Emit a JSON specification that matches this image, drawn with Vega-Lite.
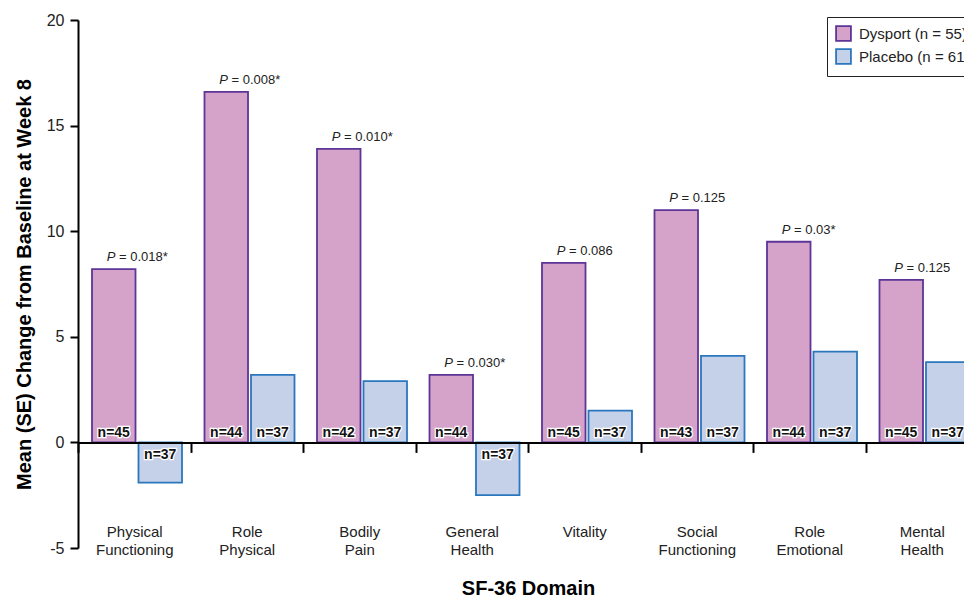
{
  "$schema": "https://vega.github.io/schema/vega-lite/v6.json",
  "width": 886,
  "height": 528,
  "autosize": {"type": "none"},
  "padding": {"left": 78, "top": 20, "right": 0, "bottom": 51},
  "background": "white",
  "config": {"font": "Liberation Sans", "view": {"stroke": null}},
  "data": {
    "values": [
      {"domain": "Physical Functioning", "series": "Dysport (n = 55)", "value": 8.2, "n": "n=45", "p": "0.018*"},
      {"domain": "Physical Functioning", "series": "Placebo (n = 61)", "value": -1.9, "n": "n=37", "p": null},
      {"domain": "Role Physical", "series": "Dysport (n = 55)", "value": 16.6, "n": "n=44", "p": "0.008*"},
      {"domain": "Role Physical", "series": "Placebo (n = 61)", "value": 3.2, "n": "n=37", "p": null},
      {"domain": "Bodily Pain", "series": "Dysport (n = 55)", "value": 13.9, "n": "n=42", "p": "0.010*"},
      {"domain": "Bodily Pain", "series": "Placebo (n = 61)", "value": 2.9, "n": "n=37", "p": null},
      {"domain": "General Health", "series": "Dysport (n = 55)", "value": 3.2, "n": "n=44", "p": "0.030*"},
      {"domain": "General Health", "series": "Placebo (n = 61)", "value": -2.5, "n": "n=37", "p": null},
      {"domain": "Vitality", "series": "Dysport (n = 55)", "value": 8.5, "n": "n=45", "p": "0.086"},
      {"domain": "Vitality", "series": "Placebo (n = 61)", "value": 1.5, "n": "n=37", "p": null},
      {"domain": "Social Functioning", "series": "Dysport (n = 55)", "value": 11.0, "n": "n=43", "p": "0.125"},
      {"domain": "Social Functioning", "series": "Placebo (n = 61)", "value": 4.1, "n": "n=37", "p": null},
      {"domain": "Role Emotional", "series": "Dysport (n = 55)", "value": 9.5, "n": "n=44", "p": "0.03*"},
      {"domain": "Role Emotional", "series": "Placebo (n = 61)", "value": 4.3, "n": "n=37", "p": null},
      {"domain": "Mental Health", "series": "Dysport (n = 55)", "value": 7.7, "n": "n=45", "p": "0.125"},
      {"domain": "Mental Health", "series": "Placebo (n = 61)", "value": 3.8, "n": "n=37", "p": null}
    ]
  },
  "encoding": {
    "x": {
      "field": "domain", "type": "nominal", "sort": null,
      "scale": {"range": [0, 900], "paddingInner": 0, "paddingOuter": 0},
      "axis": {
        "title": "SF-36 Domain", "orient": "bottom", "offset": -105.6, "zindex": 1,
        "tickBand": "extent", "tickSize": 10, "tickWidth": 2, "tickColor": "black",
        "domainColor": "black", "domainWidth": 2,
        "labelAngle": 0, "labelFontSize": 15, "labelColor": "#222", "labelPadding": 72,
        "labelLineHeight": 18, "labelBaseline": "top", "labelExpr": "split(datum.label, ' ')",
        "titleFontSize": 20, "titleFontWeight": "bold", "titleColor": "black", "titlePadding": 21
      }
    },
    "xOffset": {"field": "series", "type": "nominal", "sort": null, "scale": {"range": [14, 104], "paddingInner": 0.064, "paddingOuter": 0}}
  },
  "layer": [
    {
      "mark": {"type": "bar", "strokeWidth": 1.8},
      "encoding": {
        "y": {
          "field": "value", "type": "quantitative",
          "scale": {"domain": [-5, 20], "nice": false, "zero": false},
          "axis": {
            "values": [-5, 0, 5, 10, 15, 20], "grid": false, "labelExpr": "'' + datum.value",
            "domainColor": "black", "domainWidth": 2, "tickColor": "black", "tickWidth": 2, "tickSize": 8,
            "labelFontSize": 16, "labelColor": "#222", "labelPadding": 6,
            "title": "Mean (SE) Change from Baseline at Week 8", "titleFontSize": 20,
            "titleFontWeight": "bold", "titleColor": "black", "titlePadding": 12
          }
        },
        "fill": {
          "field": "series", "type": "nominal", "sort": null,
          "scale": {"range": ["#d5a3c9", "#c5d0e9"]},
          "legend": {
            "orient": "none", "legendX": 749, "legendY": -3, "title": null,
            "strokeColor": "#222", "padding": 8, "symbolType": "square", "symbolSize": 220,
            "symbolStrokeWidth": 1.8, "labelFontSize": 15, "labelColor": "#222", "rowPadding": 0, "labelOffset": 7
          }
        },
        "stroke": {
          "field": "series", "type": "nominal", "sort": null,
          "scale": {"range": ["#5c3596", "#2b77bd"]},
          "legend": {
            "orient": "none", "legendX": 749, "legendY": -3, "title": null,
            "strokeColor": "#222", "padding": 8, "symbolType": "square", "symbolSize": 220,
            "symbolStrokeWidth": 1.8, "labelFontSize": 15, "labelColor": "#222", "rowPadding": 0, "labelOffset": 7
          }
        }
      }
    },
    {
      "transform": [{"filter": "datum.p != null"}],
      "mark": {"type": "text", "fontStyle": "italic", "fontSize": 13, "align": "left", "baseline": "alphabetic", "dx": -7, "dy": -8, "color": "#222"},
      "encoding": {"y": {"field": "value", "type": "quantitative"}, "text": {"value": "P"}}
    },
    {
      "transform": [{"filter": "datum.p != null"}],
      "mark": {"type": "text", "fontSize": 13, "align": "left", "baseline": "alphabetic", "dx": 5.3, "dy": -8, "color": "#222"},
      "encoding": {"y": {"field": "value", "type": "quantitative"}, "text": {"value": "="}}
    },
    {
      "transform": [{"filter": "datum.p != null"}],
      "mark": {"type": "text", "fontSize": 13, "align": "left", "baseline": "alphabetic", "dx": 16.5, "dy": -8, "color": "#222"},
      "encoding": {"y": {"field": "value", "type": "quantitative"}, "text": {"field": "p"}}
    },
    {
      "transform": [{"filter": "datum.value >= 0"}],
      "mark": {"type": "text", "fontWeight": "bold", "fontSize": 14, "baseline": "alphabetic", "dy": -5, "stroke": "white", "strokeWidth": 2.5, "fill": "white"},
      "encoding": {"y": {"datum": 0, "type": "quantitative"}, "text": {"field": "n"}}
    },
    {
      "transform": [{"filter": "datum.value >= 0"}],
      "mark": {"type": "text", "fontWeight": "bold", "fontSize": 14, "baseline": "alphabetic", "dy": -5, "fill": "#111"},
      "encoding": {"y": {"datum": 0, "type": "quantitative"}, "text": {"field": "n"}}
    },
    {
      "transform": [{"filter": "datum.value < 0"}],
      "mark": {"type": "text", "fontWeight": "bold", "fontSize": 14, "baseline": "alphabetic", "dy": 17, "stroke": "white", "strokeWidth": 2.5, "fill": "white"},
      "encoding": {"y": {"datum": 0, "type": "quantitative"}, "text": {"field": "n"}}
    },
    {
      "transform": [{"filter": "datum.value < 0"}],
      "mark": {"type": "text", "fontWeight": "bold", "fontSize": 14, "baseline": "alphabetic", "dy": 17, "fill": "#111"},
      "encoding": {"y": {"datum": 0, "type": "quantitative"}, "text": {"field": "n"}}
    }
  ]
}
